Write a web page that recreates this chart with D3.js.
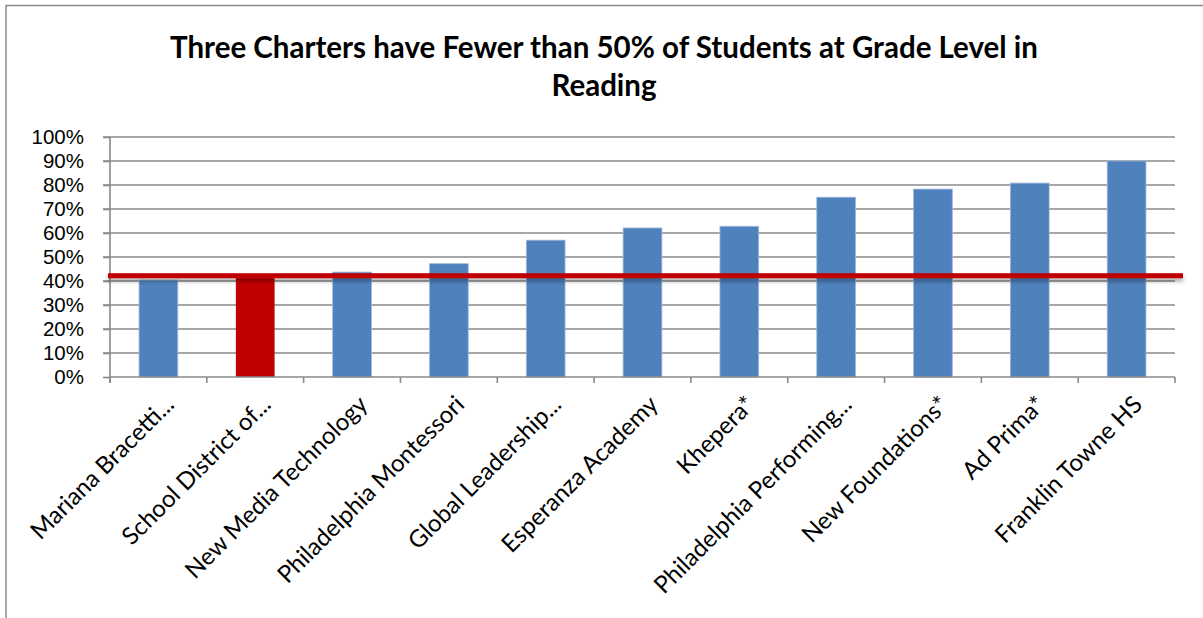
<!DOCTYPE html>
<html>
<head>
<meta charset="utf-8">
<script src="https://cdn.jsdelivr.net/npm/d3@7"></script>
<style>
  html, body { margin: 0; padding: 0; background: #fff; }
  svg { display: block; }
  text { font-family: Lato, "Open Sans", sans-serif; fill: #000; }
</style>
</head>
<body>
<svg id="chart" width="1203" height="618"></svg>
<script>
const categories = [
  "Mariana Bracetti...", "School District of...", "New Media Technology",
  "Philadelphia Montessori", "Global Leadership...", "Esperanza Academy",
  "Khepera*", "Philadelphia Performing...", "New Foundations*",
  "Ad Prima*", "Franklin Towne HS"
];
const values = [0.404, 0.42, 0.437, 0.472, 0.57, 0.621, 0.628, 0.749, 0.783, 0.808, 0.90];
const highlighted = ["School District of..."];
const referenceValue = 0.422;
const yTicks = [0, 0.1, 0.2, 0.3, 0.4, 0.5, 0.6, 0.7, 0.8, 0.9, 1.0];
const titleLines = ["Three Charters have Fewer than 50% of Students at Grade Level in", "Reading"];

const svg = d3.select("#chart");
const W = 1203, H = 618;
const margin = { left: 110, right: 28, top: 137, bottom: 241 };
const plotRight = W - margin.right;
const plotBottom = H - margin.bottom;

// outer frame (top + left)
svg.append("path")
  .attr("d", `M6,${H} L6,5.5 L${W},5.5`)
  .attr("fill", "none").attr("stroke", "#8a8a8a").attr("stroke-width", 1.5);

// shadow filter
const defs = svg.append("defs");
const f = defs.append("filter").attr("id", "shadow")
  .attr("x", "-5%").attr("y", "-100%").attr("width", "110%").attr("height", "400%");
f.append("feDropShadow").attr("dx", 0).attr("dy", 3).attr("stdDeviation", 2)
  .attr("flood-color", "#000").attr("flood-opacity", 0.35);

// title
svg.append("text")
  .attr("text-anchor", "middle")
  .style("font-weight", "bold").style("font-size", "29.5px")
  .selectAll("tspan").data(titleLines).join("tspan")
  .attr("x", 604).attr("y", (d, i) => 58 + i * 38).text(d => d);

const x = d3.scaleBand().domain(categories).range([margin.left, plotRight]).paddingInner(0.6).paddingOuter(0.3);
const xBand = d3.scaleBand().domain(categories).range([margin.left, plotRight]);
const y = d3.scaleLinear().domain([0, 1]).range([plotBottom, margin.top]);

// gridlines
svg.append("g").selectAll("line").data(yTicks.filter(d => d > 0)).join("line")
  .attr("x1", margin.left - 7).attr("x2", plotRight)
  .attr("y1", d => y(d)).attr("y2", d => y(d))
  .attr("stroke", "#8a8a8a").attr("stroke-width", 1.6);

// y axis
const yAxis = svg.append("g").attr("transform", `translate(${margin.left},0)`)
  .call(d3.axisLeft(y).tickValues(yTicks).tickFormat(d3.format(".0%")).tickSize(7).tickPadding(19));
yAxis.select(".domain").attr("stroke", "#8a8a8a").attr("stroke-width", 1.6)
  .attr("d", `M0,${plotBottom + 6}V${margin.top}`);
yAxis.selectAll(".tick line").attr("stroke", "#8a8a8a").attr("stroke-width", 1.6);
yAxis.selectAll(".tick text").style("font-size", "20.5px")
  .style("font-family", "'Liberation Sans', Arial, sans-serif").attr("fill", "#000");

// bars
svg.append("g").selectAll("rect").data(categories).join("rect")
  .attr("x", d => x(d)).attr("width", x.bandwidth())
  .attr("y", (d, i) => y(values[i])).attr("height", (d, i) => plotBottom - y(values[i]))
  .attr("fill", d => highlighted.includes(d) ? "#C00000" : "#4F81BD")
  .attr("stroke", d => highlighted.includes(d) ? "none" : "#9db8dc").attr("stroke-width", 0.8);

// x axis
const xAxis = svg.append("g").attr("transform", `translate(0,${plotBottom})`);
xAxis.append("line").attr("x1", margin.left).attr("x2", plotRight).attr("y1", 0).attr("y2", 0)
  .attr("stroke", "#8a8a8a").attr("stroke-width", 1.6);
const bounds = categories.map(c => xBand(c)).concat([plotRight]);
xAxis.selectAll("line.tk").data(bounds).join("line").attr("class", "tk")
  .attr("x1", d => d).attr("x2", d => d).attr("y1", 0).attr("y2", 6)
  .attr("stroke", "#8a8a8a").attr("stroke-width", 1.6);
xAxis.selectAll("text").data(categories).join("text")
  .attr("text-anchor", "end")
  .attr("transform", d => `translate(${xBand(d) + xBand.bandwidth() / 2 + 17},${29}) rotate(-45)`)
  .style("font-size", "24px")
  .text(d => d);

// reference line (drawn as a thin band so the shadow filter applies)
const refThickness = 5;
svg.append("rect")
  .attr("x", margin.left - 2).attr("width", plotRight + 8 - (margin.left - 2))
  .attr("y", y(referenceValue) - refThickness / 2).attr("height", refThickness)
  .attr("fill", "#C00000")
  .attr("filter", "url(#shadow)");
</script>
</body>
</html>
